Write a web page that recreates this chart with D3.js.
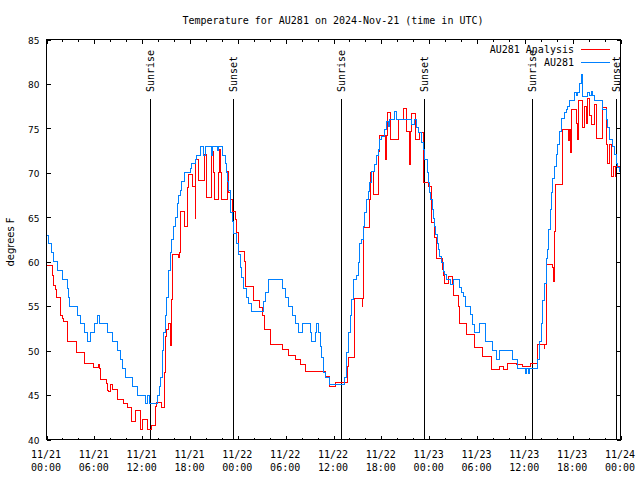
<!DOCTYPE html>
<html><head><meta charset="utf-8">
<script src="https://cdn.jsdelivr.net/npm/d3@7"></script>
<style>body{margin:0;background:#fff}svg{display:block}</style>
</head><body><svg id="c" width="640" height="480"></svg>
<script>
const title = "Temperature for AU281 on 2024-Nov-21 (time in UTC)";
const yLabel = "degrees F";
const seriesNames = ["AU281 Analysis", "AU281"];
const seriesColors = ["#ff0000", "#0080ff"];
const yTicks = [40, 45, 50, 55, 60, 65, 70, 75, 80, 85];
const sunriseHours = [13.05, 37.03, 61.02];
const sunsetHours = [23.45, 47.47, 71.46];
// [hours since 2024-11-21 00:00 UTC, degrees F]
const analysisData = [[0,59.6],[0.79,58.4],[0.91,57.3],[1.13,56.9],[1.25,56],[1.75,53.9],[1.97,53.6],[2.17,53.3],[2.59,51],[3.76,49.75],[4.76,48.6],[5.85,48.05],[6.47,48.4],[6.64,48],[6.76,46.75],[7.51,46.25],[7.68,45.5],[7.8,45.4],[8.01,46.2],[8.23,45.6],[8.93,44.5],[9.6,44.05],[10.1,43.6],[10.64,42.05],[11.14,43.3],[11.77,41.1],[12.06,42.3],[12.68,41.1],[13.11,41.6],[13.65,43.75],[13.77,44.2],[14.4,43.6],[14.78,47.5],[14.9,51.6],[15.11,52.4],[15.31,53.1],[15.5,52.8],[15.61,50.6],[15.69,53],[15.74,55.75],[15.86,60.8],[16.57,60.5],[16.65,61],[16.78,63.1],[16.87,65.7],[17.32,64],[17.69,68.3],[17.82,69.8],[18.37,68.5],[18.66,64.9],[18.74,71.5],[19.07,69.1],[19.78,72.1],[20.04,67.2],[20.66,72.4],[20.95,70],[21.04,67],[21.58,70],[21.66,72.6],[21.79,70],[22,67],[22.7,70.2],[22.83,67.8],[23.13,67],[23.29,65.7],[23.75,64.75],[23.88,63.25],[24.08,61.2],[24.79,60.06],[24.92,57.25],[25.96,55.6],[26.71,54.8],[27.05,54],[27.3,52.4],[28.05,50.7],[29.55,50.1],[30.3,49.5],[31.18,49],[31.81,48.4],[32.43,47.6],[34.94,47.1],[35.56,46],[36.31,46.4],[37.75,48.2],[37.94,49.2],[38.69,55.9],[39.6,55],[39.68,55.9],[39.73,63.8],[40.57,67],[40.7,70],[40.78,70.2],[41.07,67.6],[41.66,72.4],[41.74,74.2],[42.57,71.5],[42.62,74.2],[42.74,76.75],[43.16,73.75],[44.12,76],[44.74,77.2],[45.17,74.7],[45.58,70.9],[45.65,74.7],[45.79,76.7],[46.29,73.75],[46.74,74.5],[47.25,73.4],[47.33,68.9],[47.87,68.5],[48.29,64.4],[48.71,62.7],[48.92,60.4],[49.67,59.1],[49.75,58.4],[49.88,57.6],[50.38,58.3],[50.88,57.6],[51,56.2],[51.72,55],[51.84,53.1],[52.68,51.8],[53.72,50.4],[54.68,49.3],[55.81,47.9],[56.76,48.2],[57.35,47.9],[57.77,48.6],[58.98,48.4],[59.73,48.2],[60.73,48.6],[61.65,50.7],[62.42,50.2],[62.5,50.7],[62.7,55.4],[62.78,59.7],[63.49,59.4],[63.55,57.8],[63.74,63.4],[63.86,68.7],[64.7,74.9],[65.52,73.6],[65.6,74.9],[65.69,72.25],[65.81,77.1],[66.53,75.6],[66.65,73.75],[66.78,78.1],[67.2,75.1],[67.49,77.5],[67.7,75.6],[67.9,78.4],[68.12,76.5],[68.33,75.4],[68.75,77.7],[69.03,73.9],[69.71,77.4],[70.21,73.2],[70.41,71.1],[70.62,73.2],[70.83,69.6],[71.12,70.75],[71.33,69.6],[71.43,70.75],[72,70.75]];
const observedData = [[0,63],[0.29,62],[0.63,61],[0.91,60],[1.41,59],[1.97,58],[2.59,57],[2.72,56],[2.92,55],[3.84,54],[4.26,53],[4.76,52],[5.1,51],[5.51,52],[6.05,53],[6.35,54],[6.64,53],[7.6,52],[8.3,51],[8.93,50],[9.27,49],[9.55,48],[9.85,47],[10.73,46],[11.36,45],[12.4,44],[12.68,45],[12.93,44],[13.94,45],[14.19,46],[14.34,47],[14.49,50],[14.69,52],[14.9,54],[15.11,56],[15.31,59],[15.53,61],[15.74,62.5],[15.94,64],[16.15,65],[16.37,66.5],[16.57,67.5],[16.78,68],[16.99,69],[17.32,70],[18.03,70.5],[18.24,71],[18.66,71.5],[18.78,72],[19.28,73],[19.7,72],[19.91,73],[20.7,72],[20.85,73],[21.5,72.5],[21.6,73],[22.13,72],[22.41,71],[22.63,70],[22.75,69],[22.88,68],[23.04,66.6],[23.13,65.5],[23.29,64.5],[23.45,63.2],[23.88,62],[24.08,60.8],[24.29,59.3],[24.51,58.2],[24.71,57],[25.13,56],[25.33,55.3],[25.76,54.4],[27.17,55.5],[27.49,56.5],[27.8,58],[29.55,57],[29.93,56],[30.3,55],[30.8,54],[31.18,53],[31.56,52],[32.14,53],[33.06,52],[33.27,51],[33.68,52],[33.9,53],[34.1,52],[34.31,50.5],[34.52,49.2],[34.69,47.5],[34.94,47],[35.56,46.2],[37.32,47],[37.65,49.75],[37.85,52],[38.07,53.9],[38.28,55.75],[38.48,58],[38.9,58.4],[39.1,59.9],[39.32,62.1],[39.53,62.5],[39.73,64],[39.94,65.5],[40.16,67],[40.36,67.9],[40.57,68.9],[40.78,70.2],[41.2,70.9],[41.41,71.9],[41.61,72.6],[41.82,73.75],[42.04,74.1],[42.45,74.9],[42.66,75.8],[42.86,75.2],[43.08,76],[43.7,76.9],[43.91,76],[45.79,75.4],[46.2,76],[46.42,75.1],[46.62,74.5],[47.05,73.4],[47.25,72.6],[47.46,71.5],[47.74,70],[47.87,68.9],[48.08,67.75],[48.21,67],[48.37,65.9],[48.5,64.9],[48.71,64],[48.84,63.1],[49,62.1],[49.17,61.4],[49.34,60.6],[49.55,59.9],[49.75,58.9],[49.96,58.6],[50.18,58],[50.71,57.4],[51,58],[51.75,57.1],[52.05,56.5],[52.25,56.1],[52.55,55],[53.18,54.1],[53.43,52.9],[53.72,52],[54.35,53],[55.01,51],[55.94,50],[56.44,49],[56.85,50],[58.44,49],[59.14,48],[60.1,47.4],[60.2,48],[60.5,47.4],[60.6,48],[61.65,49],[61.86,51],[62.07,53],[62.27,55.6],[62.48,57.6],[62.7,60.4],[62.9,61.4],[63.02,63.6],[63.2,65.9],[63.4,67.75],[63.53,69.4],[63.74,70.75],[63.95,72.1],[64.15,73.2],[64.36,74.7],[64.58,76.1],[64.99,76.75],[65.2,77.1],[65.4,77.5],[65.61,78.1],[66.24,79],[66.45,78.7],[66.65,79],[66.87,80.1],[67.16,81.06],[67.28,78.6],[67.9,79],[68.12,78.7],[68.33,79.2],[68.53,78.7],[68.75,78.1],[69.79,77.1],[70.21,76],[70.41,75.1],[70.62,73.75],[71.04,73],[71.25,72.1],[71.46,71.1],[71.66,70.6],[71.88,70.2],[72,70.2]];

const mono = "'DejaVu Sans Mono', 'Liberation Mono', monospace";
const sans = "'DejaVu Sans', 'Liberation Sans', sans-serif";
const t0 = Date.UTC(2024, 10, 21);
const toDate = h => new Date(t0 + h * 3600000);
const L = 46.5, R = 620.5, T = 39.5, B = 439.5;

const svg = d3.select("#c");
const x = d3.scaleUtc().domain([toDate(0), toDate(72)]).range([L, R]);
const y = d3.scaleLinear().domain([40, 85]).range([B, T]);

const majorTicks = d3.range(0, 73, 6).map(toDate);
const minorTicks = d3.range(0, 73, 2).filter(h => h % 6 !== 0).map(toDate);

function cleanAxis(g) { g.select(".domain").remove(); g.selectAll("line").attr("stroke", "#000").attr("shape-rendering", "crispEdges"); }

// x axes (bottom & top, major & minor)
svg.append("g").attr("transform", `translate(0,${B})`).call(d3.axisBottom(x).tickValues(majorTicks).tickSize(-4).tickFormat("")).call(cleanAxis);
svg.append("g").attr("transform", `translate(0,${B})`).call(d3.axisBottom(x).tickValues(minorTicks).tickSize(-2).tickFormat("")).call(cleanAxis);
svg.append("g").attr("transform", `translate(0,${T})`).call(d3.axisTop(x).tickValues(majorTicks).tickSize(-4).tickFormat("")).call(cleanAxis);
svg.append("g").attr("transform", `translate(0,${T})`).call(d3.axisTop(x).tickValues(minorTicks).tickSize(-2).tickFormat("")).call(cleanAxis);

const fmtD = d3.utcFormat("%m/%d"), fmtT = d3.utcFormat("%H:%M");
const xl = svg.append("g").attr("font-family", mono).attr("font-size", 10).attr("text-anchor", "middle");
majorTicks.forEach(d => {
  const t = xl.append("text").attr("x", x(d) - 0.5);
  t.append("tspan").attr("x", x(d) - 0.5).attr("y", 457.5).text(fmtD(d));
  t.append("tspan").attr("x", x(d) - 0.5).attr("y", 471).text(fmtT(d));
});

// y axes
const yl = svg.append("g").attr("transform", `translate(${L},0)`)
  .call(d3.axisLeft(y).tickValues(yTicks).tickSize(-4).tickPadding(7).tickFormat(d3.format("d"))).call(cleanAxis);
yl.selectAll("text").attr("font-family", sans).attr("font-size", 9).attr("fill", "#000").attr("dy", "0.42em");
svg.append("g").attr("transform", `translate(${R},0)`)
  .call(d3.axisRight(y).tickValues(yTicks).tickSize(-4).tickFormat("")).call(cleanAxis);

// sunrise / sunset markers
const sunEvents = sunriseHours.map(h => ({ h, label: "Sunrise" })).concat(sunsetHours.map(h => ({ h, label: "Sunset" })));
const sx = d => Math.round(x(toDate(d.h)) - 0.5) + 0.5;
svg.append("g").selectAll("line").data(sunEvents).join("line")
  .attr("x1", sx).attr("x2", sx).attr("y1", 99).attr("y2", B)
  .attr("stroke", "#000").attr("stroke-width", 1).attr("shape-rendering", "crispEdges");
svg.append("g").selectAll("text").data(sunEvents).join("text")
  .attr("transform", d => `translate(${sx(d)},92) rotate(-90)`)
  .attr("dy", "0.36em").attr("font-family", mono).attr("font-size", 10).attr("fill", "#000")
  .text(d => d.label);

// series
const line = d3.line().x(d => x(toDate(d[0]))).y(d => y(d[1])).curve(d3.curveStepAfter);
[analysisData, observedData].forEach((data, i) => {
  svg.append("path").datum(data).attr("d", line).attr("fill", "none")
    .attr("stroke", seriesColors[i]).attr("stroke-width", 1).attr("shape-rendering", "crispEdges");
});

// frame
svg.append("rect").attr("x", L).attr("y", T).attr("width", R - L).attr("height", B - T)
  .attr("fill", "none").attr("stroke", "#000").attr("stroke-width", 1).attr("shape-rendering", "crispEdges");

// legend
const lg = svg.append("g");
seriesNames.forEach((name, i) => {
  const yy = 49.5 + i * 13;
  lg.append("text").attr("x", 574).attr("y", yy + 3.6).attr("text-anchor", "end")
    .attr("font-family", mono).attr("font-size", 10).attr("fill", "#000").text(name);
  lg.append("line").attr("x1", 581).attr("x2", 610).attr("y1", yy).attr("y2", yy)
    .attr("stroke", seriesColors[i]).attr("stroke-width", 1).attr("shape-rendering", "crispEdges");
});

// title and y label
svg.append("text").attr("x", 333).attr("y", 23.5).attr("text-anchor", "middle")
  .attr("font-family", mono).attr("font-size", 10).attr("fill", "#000").text(title);
svg.append("text").attr("transform", "translate(14,242) rotate(-90)").attr("text-anchor", "middle")
  .attr("font-family", sans).attr("font-size", 10).attr("fill", "#000").text(yLabel);
</script></body></html>
